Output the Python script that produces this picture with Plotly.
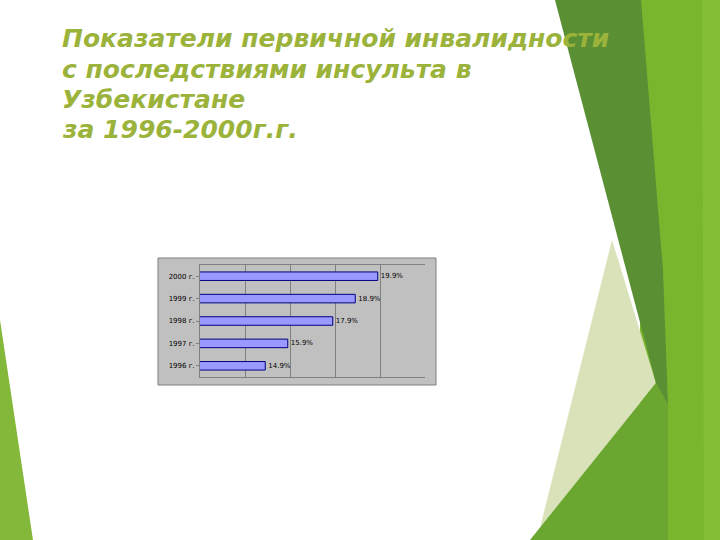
import plotly.graph_objects as go

years = ["1996 г.", "1997 г.", "1998 г.", "1999 г.", "2000 г."]
values = [14.9, 15.9, 17.9, 18.9, 19.9]
labels = ["14.9%", "15.9%", "17.9%", "18.9%", "19.9%"]
title_lines = ["Показатели первичной инвалидности",
               "с последствиями инсульта в",
               "Узбекистане",
               "за 1996-2000г.г."]

W, H = 720, 540

def px(x):
    return x / W

def py(y):
    return 1 - y / H

def path(points):
    return "M " + " L ".join(f"{px(x):.4f},{py(y):.4f}" for x, y in points) + " Z"

fig = go.Figure()
fig.add_trace(go.Bar(
    y=years, x=values, orientation="h",
    marker=dict(color="#9999ff", line=dict(color="#000080", width=1)),
    text=labels, textposition="outside",
    textfont=dict(size=7, color="#000000", family="DejaVu Sans"),
    cliponaxis=False,
))

def poly(points, color):
    return dict(type="path", xref="paper", yref="paper", layer="below",
                path=path(points), fillcolor=color, line=dict(width=0))

shapes = [
    poly([(640, 0), (720, 0), (720, 540), (640, 540)], "#7ab52e"),
    poly([(702, 0), (720, 0), (720, 540), (704, 540)], "#84bd36"),
    poly([(612, 240), (656, 383), (540, 528)], "#d9e2b8"),
    poly([(555, 0), (641, 0), (663, 270), (668, 405), (656, 383)], "#5a8f34"),
    poly([(656, 383), (668, 405), (668, 540), (530, 540)], "#6aa630"),
    poly([(0, 320), (33, 540), (0, 540)], "#84b83a"),
    dict(type="rect", xref="paper", yref="paper", layer="below",
         x0=px(158), x1=px(436), y0=py(385), y1=py(258),
         fillcolor="#c0c0c0", line=dict(color="#808080", width=1)),
]

title_y = [38, 69, 100, 130]
annotations = [dict(
    xref="paper", yref="paper", x=px(60), y=py(yc),
    xanchor="left", yanchor="middle", align="left", showarrow=False,
    text=f"<b><i>{t}</i></b>",
    font=dict(family="DejaVu Sans", size=25, color="#9bb33a"),
) for t, yc in zip(title_lines, title_y)]

fig.update_layout(
    width=W, height=H,
    margin=dict(l=0, r=0, t=0, b=0),
    paper_bgcolor="#ffffff",
    plot_bgcolor="#c0c0c0",
    showlegend=False,
    bargap=0.62,
    shapes=shapes,
    xaxis=dict(domain=[px(200), px(425)], range=[12, 22], dtick=2,
               showgrid=True, gridcolor="#808080", gridwidth=1,
               showticklabels=False, zeroline=False,
               showline=True, linecolor="#808080", mirror=True, ticks=""),
    yaxis=dict(domain=[py(377), py(265)], categoryorder="array",
               categoryarray=years, showgrid=False,
               tickfont=dict(size=7, color="#000000", family="DejaVu Sans"),
               showline=True, linecolor="#808080", ticks="outside",
               ticklen=3, tickcolor="#808080"),
    annotations=annotations,
)

fig.write_html("out.html", config={"displayModeBar": False},
               post_script="document.body.style.margin='0';document.body.style.overflow='hidden';")
